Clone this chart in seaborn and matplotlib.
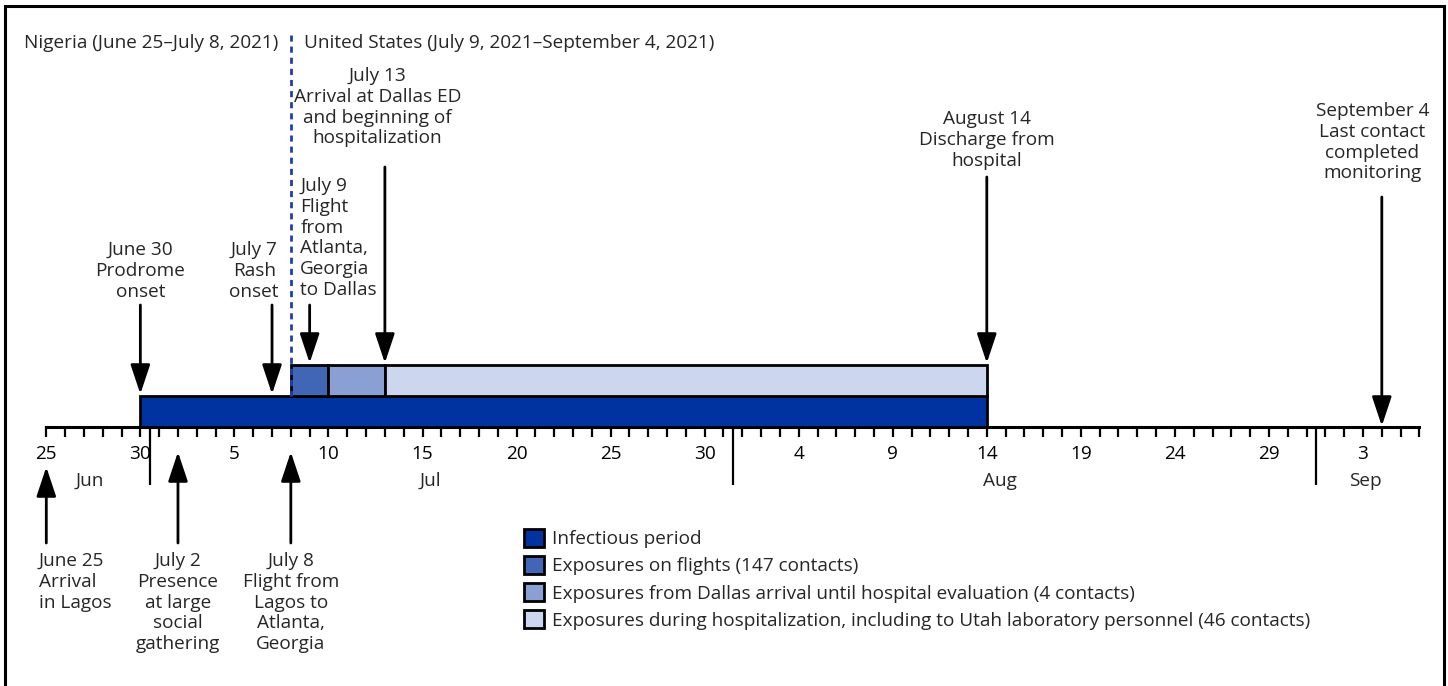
import pandas as pd
import matplotlib.pyplot as plt
import seaborn as sns
from matplotlib.patches import Patch, Rectangle
from matplotlib.ticker import FixedLocator, FuncFormatter

# time window of the timeline
start_date = "2021-06-25"
end_date = "2021-09-06"
border_date = "2021-07-08"
month_starts = ["2021-07-01", "2021-08-01", "2021-09-01"]
month_names = ["Jun", "Jul", "Aug", "Sep"]

# periods shown as bars
period_names = [
    "Infectious period",
    "Exposures on flights (147 contacts)",
    "Exposures from Dallas arrival until hospital evaluation (4 contacts)",
    "Exposures during hospitalization, including to Utah laboratory personnel (46 contacts)",
]
period_starts = ["2021-06-30", "2021-07-08", "2021-07-10", "2021-07-13"]
period_ends = ["2021-08-14", "2021-07-10", "2021-07-13", "2021-08-14"]
period_colors = ["#0033A0", "#4166B5", "#8A9FD4", "#CCD6EE"]

# events above the timeline
top_dates = ["2021-06-30", "2021-07-07", "2021-07-09", "2021-07-13", "2021-08-14", "2021-09-04"]
top_labels = [
    "June 30\nProdrome\nonset",
    "July 7\nRash\nonset",
    "July 9\nFlight\nfrom\nAtlanta,\nGeorgia\nto Dallas",
    "July 13\nArrival at Dallas ED\nand beginning of\nhospitalization",
    "August 14\nDischarge from\nhospital",
    "September 4\nLast contact\ncompleted\nmonitoring",
]

# events below the timeline
bottom_dates = ["2021-06-25", "2021-07-02", "2021-07-08"]
bottom_labels = [
    "June 25\nArrival\nin Lagos",
    "July 2\nPresence\nat large\nsocial\ngathering",
    "July 8\nFlight from\nLagos to\nAtlanta,\nGeorgia",
]

header_left = "Nigeria (June 25\u2013July 8, 2021)"
header_right = "United States (July 9, 2021\u2013September 4, 2021)"

t0 = pd.Timestamp(start_date)


def day(d):
    return (pd.Timestamp(d) - t0).days


sns.set_theme(style="white")
plt.rcParams["font.family"] = ["Open Sans", "DejaVu Sans"]
FS = 13.7
LS = 1.2

fig = plt.figure(figsize=(14.48, 6.86), dpi=100)
ax = fig.add_axes([0, 0, 1, 1])
PX = 18.81  # pixels per day
ax.set_xlim(-46.3 / PX, (1448 - 46.3) / PX)
ax.set_ylim(686, 0)
AXIS_Y = 427

# timeline axis
n_days = day(end_date)
for s in ["top", "left", "right"]:
    ax.spines[s].set_visible(False)
ax.spines["bottom"].set_position(("data", AXIS_Y))
ax.spines["bottom"].set_bounds(0, n_days)
ax.spines["bottom"].set_linewidth(2.2)
ax.spines["bottom"].set_color("black")
ax.xaxis.set_major_locator(FixedLocator(range(0, n_days + 1)))
ax.xaxis.set_major_formatter(FuncFormatter(
    lambda v, p: str((t0 + pd.Timedelta(days=int(round(v)))).day) if int(round(v)) % 5 == 0 else ""))
ax.xaxis.set_minor_locator(FixedLocator([day(m) - 0.5 for m in month_starts]))
ax.tick_params(axis="x", which="major", direction="out", length=7.5, width=1.6,
               color="black", labelsize=FS, labelcolor="black", pad=5.5, bottom=True)
ax.tick_params(axis="x", which="minor", direction="out", length=42, width=1.6,
               color="black", bottom=True)
ax.set_yticks([])
ax.grid(False)

month_x = [2.3, 20.4, 50.7, 70.1]
for mx, name in zip(month_x, month_names):
    ax.text(mx, 481, name, ha="center", va="center", fontsize=FS)

# bars
rows_y = [411.5, 380]
for i, (s, e, c) in enumerate(zip(period_starts, period_ends, period_colors)):
    y = rows_y[0] if i == 0 else rows_y[1]
    ax.barh(y, day(e) - day(s), left=day(s), height=31, color=c,
            edgecolor="black", linewidth=2, zorder=3)

# country border line
bx = day(border_date)
ax.plot([bx, bx], [35, 396], color="#1F3FAF", lw=2, ls=(0, (2.2, 1.8)), zorder=4)
ax.text(bx - 0.65, 43, header_left, ha="right", va="center", fontsize=FS)
ax.text(bx + 0.7, 43, header_right, ha="left", va="center", fontsize=FS)

arrow_props = dict(arrowstyle="-|>,head_length=0.9,head_width=0.3", color="black",
                   lw=2, shrinkA=0, shrinkB=0, mutation_scale=20)

# top events: (text x offset, ha, text top, arrow tail, arrow tip)
top_layout = [
    (0, "center", 241, 305, 394),
    (-0.95, "center", 241, 305, 394),
    (-0.5, "left", 177, 305, 363),
    (-0.4, "center", 67, 167, 363),
    (0, "center", 110, 177, 363),
    (-0.5, "center", 102, 197, 426),
]
for d, lab, (dx, ha, ty, tail, tip) in zip(top_dates, top_labels, top_layout):
    x = day(d)
    ax.annotate("", xy=(x, tip), xytext=(x, tail), arrowprops=arrow_props, zorder=5)
    ax.text(x + dx, ty, lab, ha=ha, va="top", fontsize=FS, linespacing=LS,
            multialignment="left" if ha == "left" else "center")

# bottom events
bottom_layout = [
    (-0.4, "left", 467),
    (0, "center", 452),
    (0, "center", 452),
]
for d, lab, (dx, ha, tip) in zip(bottom_dates, bottom_labels, bottom_layout):
    x = day(d)
    ax.annotate("", xy=(x, tip), xytext=(x, 543), arrowprops=arrow_props, zorder=5)
    ax.text(x + dx, 552, lab, ha=ha, va="top", fontsize=FS, linespacing=LS,
            multialignment="left" if ha == "left" else "center")

# legend
handles = [Patch(facecolor=c, edgecolor="black", linewidth=2) for c in period_colors]
fig.legend(handles, period_names, loc="upper left",
           bbox_to_anchor=(524 / 1448, 1 - 529 / 686), frameon=False, fontsize=FS,
           handlelength=1.05, handleheight=1.05, handletextpad=0.4,
           labelspacing=0.41, borderaxespad=0, borderpad=0)

# frame around the figure
fig.patches.append(Rectangle((5 / 1448, -0.05), 1439 / 1448, 1.05 - 6 / 686,
                             transform=fig.transFigure, fill=False,
                             edgecolor="black", linewidth=2.2))

fig.savefig("out.png", dpi=100)
